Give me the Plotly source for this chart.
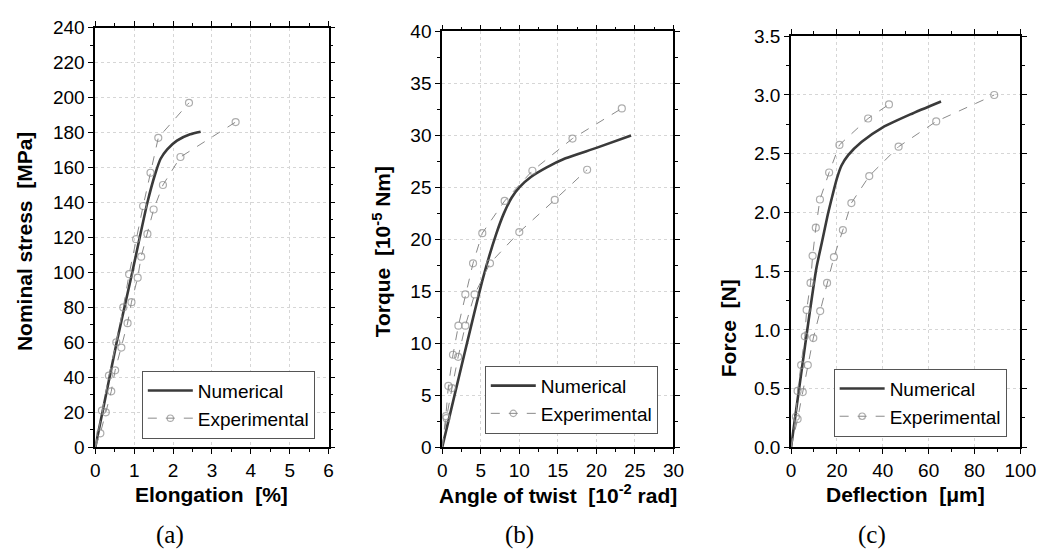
import plotly.graph_objects as go

# ---------------- data ----------------
# (a) tension
a_num_x = [0, 0.55, 0.95, 1.34, 1.55, 1.68, 1.85, 2.1, 2.44, 2.71]
a_num_y = [0, 60, 100, 140, 157, 165, 170.4, 175.4, 179, 180.5]
a_exp1_x = [0, 0.17, 0.35, 0.54, 0.72, 0.87, 1.05, 1.23, 1.42, 1.62, 2.41]
a_exp1_y = [0, 21, 41, 60, 80, 99, 119, 138, 157, 177, 197]
a_exp2_x = [0, 0.13, 0.27, 0.41, 0.51, 0.67, 0.83, 0.93, 1.09, 1.18, 1.34, 1.50, 1.74, 2.19, 3.61]
a_exp2_y = [0, 8, 20, 32, 44, 57, 71, 83, 97, 109, 122, 136, 150, 166, 186]

# (b) torsion
b_num_x = [0, 5.3, 7.0, 8.0, 9.0, 10.0, 11.5, 13.5, 16, 20, 24.5]
b_num_y = [0, 16.3, 20.5, 22.5, 24.0, 25.0, 26.0, 26.9, 27.8, 28.8, 30.0]
b_exp1_x = [0, 0.47, 0.8, 1.4, 2.1, 3.0, 4.0, 5.2, 8.1, 11.7, 16.9, 23.3]
b_exp1_y = [0, 3.0, 5.9, 8.9, 11.7, 14.7, 17.7, 20.6, 23.7, 26.6, 29.7, 32.6]
b_exp2_x = [0, 0.55, 1.27, 2.07, 3.0, 4.2, 6.2, 10.0, 14.6, 18.8]
b_exp2_y = [0, 2.8, 5.7, 8.7, 11.7, 14.7, 17.7, 20.7, 23.8, 26.7]

# (c) bending
c_num_x = [0, 11, 13.5, 16, 18, 20, 22, 25, 30.7, 40, 52, 65.4]
c_num_y = [0, 1.52, 1.75, 1.98, 2.14, 2.29, 2.40, 2.49, 2.60, 2.725, 2.835, 2.945]
c_exp1_x = [0, 2.1, 2.85, 4.4, 6.0, 6.8, 8.5, 9.4, 10.8, 12.6, 16.6, 21.1, 33.6, 42.7]
c_exp1_y = [0, 0.26, 0.48, 0.70, 0.945, 1.17, 1.40, 1.63, 1.87, 2.11, 2.34, 2.575, 2.80, 2.92]
c_exp2_x = [0, 2.85, 5.1, 7.3, 9.7, 12.7, 15.7, 18.7, 22.6, 26.3, 34.1, 46.9, 63.3, 88.6]
c_exp2_y = [0, 0.24, 0.47, 0.70, 0.93, 1.16, 1.40, 1.62, 1.85, 2.08, 2.31, 2.56, 2.775, 3.00]

x_titles = ["<b>Elongation  [%]</b>",
            "<b>Angle of twist  [10<sup>-2</sup> rad]</b>",
            "<b>Deflection  [\u03bcm]</b>"]
y_titles = ["<b>Nominal stress  [MPa]</b>",
            "<b>Torque  [10<sup>-5</sup> Nm]</b>",
            "<b>Force  [N]</b>"]
panel_labels = ["(a)", "(b)", "(c)"]
series_names = ["Numerical", "Experimental"]

# ---------------- style ----------------
W, H = 1046, 560
NUM_COLOR = "#3a3a3a"
EXP_COLOR = "#8a8a8a"
FONT = '"Liberation Sans", Arial, sans-serif'
TICK_SIZE = 19
TITLE_SIZE = 21
LEG_SIZE = 19

panels = [
    dict(num=(a_num_x, a_num_y), exp=[(a_exp1_x, a_exp1_y), (a_exp2_x, a_exp2_y)],
         px=(84, 322), py=(10, 446), xr=[0, 6], yr=[0, 240], xd=1, yd=20, yfmt="",
         leg=(308, 437)),
    dict(num=(b_num_x, b_num_y), exp=[(b_exp1_x, b_exp1_y), (b_exp2_x, b_exp2_y)],
         px=(438, 674), py=(14, 446), xr=[0, 30], yr=[0, 40], xd=5, yd=5, yfmt="",
         leg=(658, 432)),
    dict(num=(c_num_x, c_num_y), exp=[(c_exp1_x, c_exp1_y), (c_exp2_x, c_exp2_y)],
         px=(794, 1028), py=(19, 446), xr=[0, 100], yr=[0, 3.5], xd=20, yd=0.5, yfmt=".1f",
         leg=(1014, 435)),
]

fig = go.Figure()
layout = dict(width=W, height=H, margin=dict(l=0, r=0, t=0, b=0),
              paper_bgcolor="white", plot_bgcolor="white",
              font=dict(family=FONT, size=TICK_SIZE, color="black"),
              showlegend=True)
annotations = []

for i, p in enumerate(panels):
    sfx = "" if i == 0 else str(i + 1)
    xa, ya = "x" + sfx, "y" + sfx
    legname = "legend" + sfx
    fig.add_trace(go.Scatter(x=p["num"][0], y=p["num"][1], mode="lines",
                             line=dict(color=NUM_COLOR, width=2.6, shape="spline", smoothing=0.6),
                             name=series_names[0], xaxis=xa, yaxis=ya, legend=legname))
    for k, (ex, ey) in enumerate(p["exp"]):
        sizes = [0] + [7] * (len(ex) - 1)
        fig.add_trace(go.Scatter(x=ex, y=ey, mode="lines+markers",
                                 line=dict(color=EXP_COLOR, width=1, dash="dash"),
                                 marker=dict(symbol="circle-open", size=sizes, color=EXP_COLOR,
                                             line=dict(width=1.2, color=EXP_COLOR)),
                                 name=series_names[1], showlegend=(k == 0),
                                 xaxis=xa, yaxis=ya, legend=legname))
    x0, x1 = p["px"]
    y0, y1 = p["py"]
    axcommon = dict(showline=True, linecolor="black", linewidth=1.8, mirror="ticks",
                    ticks="outside", ticklen=5, tickwidth=1.4, tickcolor="black",
                    showgrid=True, gridcolor="#d6d6d6", griddash="3px,3px", gridwidth=1,
                    zeroline=False, tickfont=dict(family=FONT, size=TICK_SIZE, color="black"),
                    minor=dict(ticks="outside", ticklen=3, tickwidth=1.2, tickcolor="black",
                               showgrid=False))
    layout["xaxis" + sfx] = dict(axcommon, domain=[x0 / W, x1 / W], range=p["xr"],
                                 dtick=p["xd"], tick0=0, anchor=ya,
                                 minor=dict(axcommon["minor"], dtick=p["xd"] / 2))
    layout["yaxis" + sfx] = dict(axcommon, domain=[1 - y1 / H, 1 - y0 / H], range=p["yr"],
                                 dtick=p["yd"], tick0=0, anchor=xa, tickformat=p["yfmt"],
                                 minor=dict(axcommon["minor"], dtick=p["yd"] / 2))
    lx, ly = p["leg"]
    layout[legname] = dict(x=lx / W, y=1 - ly / H, xanchor="right", yanchor="bottom",
                           xref="paper", yref="paper",
                           bordercolor="#555555", borderwidth=1, bgcolor="white",
                           font=dict(family=FONT, size=LEG_SIZE, color="black"),
                           tracegroupgap=0, itemwidth=45)

# axis titles and panel labels as annotations
x_title_pos = [(203, 495), (556, 495), (911, 495)]
y_title_pos = [(12, 232), (376, 243), (731, 322)]
label_pos = [(160, 537), (517, 537), (877, 537)]
for i in range(3):
    annotations.append(dict(text=x_titles[i], x=x_title_pos[i][0] / W, y=1 - x_title_pos[i][1] / H,
                            xref="paper", yref="paper", showarrow=False,
                            font=dict(family=FONT, size=TITLE_SIZE, color="black"),
                            xanchor="center", yanchor="middle"))
    annotations.append(dict(text=y_titles[i], x=y_title_pos[i][0] / W, y=1 - y_title_pos[i][1] / H,
                            xref="paper", yref="paper", showarrow=False, textangle=-90,
                            font=dict(family=FONT, size=TITLE_SIZE, color="black"),
                            xanchor="center", yanchor="middle"))
    annotations.append(dict(text=panel_labels[i], x=label_pos[i][0] / W, y=1 - label_pos[i][1] / H,
                            xref="paper", yref="paper", showarrow=False,
                            font=dict(family='"Liberation Serif", "DejaVu Serif", serif', size=25,
                                      color="black"),
                            xanchor="center", yanchor="middle"))

layout["annotations"] = annotations
fig.update_layout(**layout)
fig.write_html("out.html")
